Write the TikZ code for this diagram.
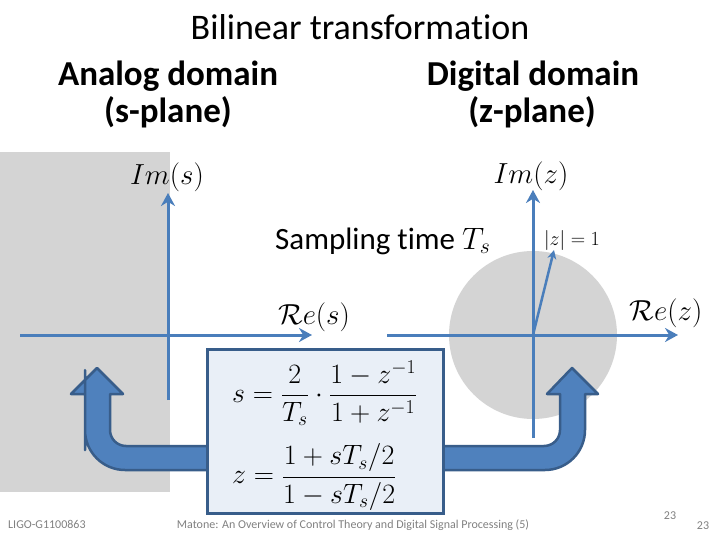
\RequirePackage{fix-cm}
\documentclass[tikz,border=0pt]{standalone}
\usepackage[no-math]{fontspec}
\setmainfont{Carlito}[Ligatures=NoCommon]
\usetikzlibrary{arrows.meta}
\definecolor{axisblue}{RGB}{74,126,187}
\definecolor{arrowblue}{RGB}{79,129,189}
\definecolor{darkblue}{RGB}{56,93,138}
\definecolor{planegray}{RGB}{212,212,212}
\definecolor{boxfill}{RGB}{233,239,247}
\definecolor{footgray}{RGB}{128,128,128}
\tikzstyle{titletext} = [font=\fontsize{36}{40}\selectfont, anchor=base, inner sep=0pt]
\tikzstyle{heading} = [font=\fontsize{35}{40}\selectfont\bfseries, anchor=base, inner sep=0pt]
\tikzstyle{axislabel} = [font=\fontsize{29}{32}\selectfont, inner sep=0pt]
\tikzstyle{eqtext} = [font=\fontsize{28}{32}\selectfont, anchor=west, inner sep=0pt]
\tikzstyle{footer} = [font=\fontsize{12}{14}\selectfont, text=footgray, anchor=base, inner sep=0pt]
\tikzstyle{axis} = [line width=3pt, draw=axisblue, -{Stealth[length=13pt,width=14pt]}]
\tikzstyle{uarrow} = [line width=2.5pt, draw=darkblue, fill=arrowblue, line join=round]
\tikzstyle{eqbox} = [rectangle, draw=darkblue, line width=3pt, fill=boxfill, minimum width=236pt, minimum height=164pt]

\begin{document}
\begin{tikzpicture}[x=1pt, y=-1pt]
      \useasboundingbox (0,0) rectangle (720,540);
      % Planes
      \fill [planegray] (0,152) rectangle (170,492);
      \fill [planegray] (533,335) circle (84);
      % Axes
      \coordinate (sleft) at (20,335);
      \coordinate (sright) at (312,335);
      \coordinate (sbottom) at (168,400);
      \coordinate (stop) at (168,193);
      \coordinate (zleft) at (387,335);
      \coordinate (zright) at (678,335);
      \coordinate (zbottom) at (533,438);
      \coordinate (ztop) at (533,190);
      \coordinate (zorigin) at (533,335);
      \coordinate (zunit) at (554,250);
      \draw [axis] (sleft) -- (sright);
      \draw [axis] (sbottom) -- (stop);
      \draw [axis] (zleft) -- (zright);
      \draw [axis] (zbottom) -- (ztop);
      \draw [axis, line width=2.5pt, -{Stealth[length=9pt,width=9pt]}] (zorigin) -- (zunit);
      % U-turn arrow
      \draw [uarrow] (97,368) -- (123,394) -- (110,394) -- (110,410) [rounded corners=16pt] -- (110,446) -- (560,446) -- (560,410) [sharp corners] -- (560,394) -- (547,394) -- (572,368) -- (598,394) -- (585,394) -- (585,410) [rounded corners=40pt] -- (585,470) -- (85,470) -- (85,410) [sharp corners] -- (85,394) -- (71,394) -- cycle;
      % Nodes
      \node (title) [titletext] at (360,40) {Bilinear transformation};
      \node (analog) [heading] at (168,86) {Analog domain};
      \node (splane) [heading] at (168,123) {(s-plane)};
      \node (digital) [heading] at (533,86) {Digital domain};
      \node (zplane) [heading] at (532,123) {(z-plane)};
      \node (ims) [axislabel] at (167,177) {$Im(s)$};
      \node (res) [axislabel] at (314,317) {$\mathcal{R}e(s)$};
      \node (imz) [axislabel] at (531,176) {$Im(z)$};
      \node (rez) [axislabel] at (666,313) {$\mathcal{R}e(z)$};
      \node (unit) [font=\fontsize{20}{24}\selectfont, inner sep=0pt] at (572,240) {$|z|=1$};
      \node (sampling) [font=\fontsize{31}{34}\selectfont, anchor=base west, inner sep=0pt] at (275,249) {Sampling time $T_s$};
      \node (box) [eqbox] at (325,431) {};
      \node (stoz) [eqtext] at (232,393) {$\displaystyle s=\frac{2}{T_s}\cdot\frac{1-z^{-1}}{1+z^{-1}}$};
      \node (ztos) [eqtext] at (232,477) {$\displaystyle z=\frac{1+sT_s/2}{1-sT_s/2}$};
      % Footer
      \node (ligo) [footer, anchor=base west] at (8,528) {LIGO-G1100863};
      \node (matone) [footer] at (353,528) {Matone: An Overview of Control Theory and Digital Signal Processing (5)};
      \node (pageup) [footer] at (670,519) {23};
      \node (pagedown) [footer] at (703,529) {23};
\end{tikzpicture}
\end{document}
